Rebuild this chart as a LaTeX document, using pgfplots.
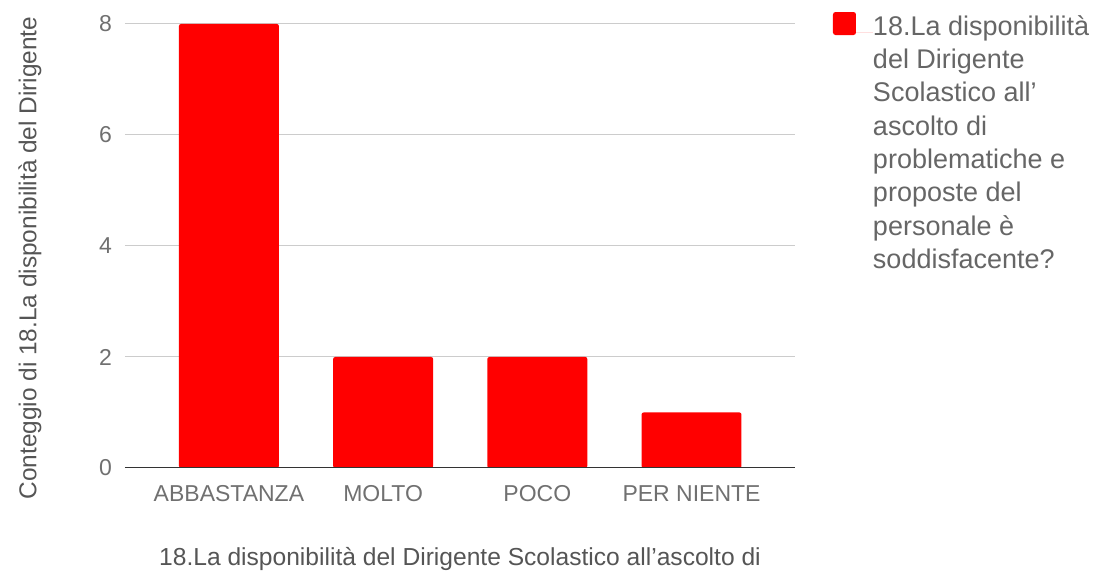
\documentclass[border=0pt]{standalone}
\usepackage{fontspec}
\setmainfont{Liberation Sans}
\usepackage{pgfplots}
\pgfplotsset{compat=1.18}
\definecolor{barred}{HTML}{FF0000}
\definecolor{gridc}{HTML}{CCCCCC}
\definecolor{basec}{HTML}{333333}
\definecolor{tickc}{HTML}{707070}
\definecolor{legc}{HTML}{666666}
\definecolor{titc}{HTML}{555555}
\begin{document}
\begin{tikzpicture}[x=1pt,y=1pt]
\path[use as bounding box] (0,0) rectangle (1104,572);
\begin{axis}[
  at={(125pt,104pt)}, anchor=south west,
  scale only axis, width=670pt, height=444pt,
  xmin=-0.674, xmax=3.671, ymin=0, ymax=8,
  ybar, bar width=0.648,
  xtick={0,1,2,3},
  xticklabels={ABBASTANZA,MOLTO,POCO,PER NIENTE},
  ytick={0,2,4,6,8},
  ymajorgrids, grid style={gridc, line width=1pt},
  axis line style={draw=none}, tick style={draw=none},
  major tick length=0pt,
  /pgf/number format/assume math mode=true,
  ticklabel style={font=\fontsize{23}{27}\selectfont, text=tickc, inner sep=0pt},
  yticklabel style={anchor=east, xshift=-13pt},
  xticklabel style={anchor=north, yshift=-17pt},
  xlabel={18.La disponibilità del Dirigente Scolastico all’ascolto di},
  xlabel style={at={(rel axis cs:0.5,0)}, anchor=north, yshift=-79pt, inner sep=0pt, font=\fontsize{24.6}{28}\selectfont, text=titc},
  ylabel={Conteggio di 18.La disponibilità del Dirigente},
  ylabel style={at={(rel axis cs:-0.1418,0.473)}, anchor=center, rotate=0, inner sep=0pt, font=\fontsize{24.4}{28}\selectfont, text=titc},
  legend cell align=left,
  legend style={draw=none, fill=none, inner sep=0pt, outer sep=0pt,
    at={(rel axis cs:1.0567,1.0270)}, anchor=north west,
    row sep=0pt, column sep=0pt,
    nodes={inner sep=0pt, outer sep=0pt, text height=20pt, text depth=13.3pt, font=\fontsize{27}{33.3}\selectfont, text=legc}},
]
\addplot[fill=barred, draw=none, rounded corners=2pt,
  legend image code/.code={\fill[barred, rounded corners=2.5pt] (0pt,-3pt) rectangle (23pt,20pt); \path[draw=none] (0pt,0pt) -- (40pt,0pt);}]
  coordinates {(0,8) (1,2) (2,2) (3,1)};
\addlegendentry{18.La disponibilità}
\addlegendimage{draw=none, legend image code/.code={\path[draw=none] (0pt,0pt) -- (40pt,0pt);}}
\addlegendentry{del Dirigente}
\addlegendimage{draw=none, legend image code/.code={\path[draw=none] (0pt,0pt) -- (40pt,0pt);}}
\addlegendentry{Scolastico all’}
\addlegendimage{draw=none, legend image code/.code={\path[draw=none] (0pt,0pt) -- (40pt,0pt);}}
\addlegendentry{ascolto di}
\addlegendimage{draw=none, legend image code/.code={\path[draw=none] (0pt,0pt) -- (40pt,0pt);}}
\addlegendentry{problematiche e}
\addlegendimage{draw=none, legend image code/.code={\path[draw=none] (0pt,0pt) -- (40pt,0pt);}}
\addlegendentry{proposte del}
\addlegendimage{draw=none, legend image code/.code={\path[draw=none] (0pt,0pt) -- (40pt,0pt);}}
\addlegendentry{personale è}
\addlegendimage{draw=none, legend image code/.code={\path[draw=none] (0pt,0pt) -- (40pt,0pt);}}
\addlegendentry{soddisfacente?}
\draw[basec, line width=1.3pt] (rel axis cs:0,0) -- (rel axis cs:1,0);
\end{axis}
\end{tikzpicture}
\end{document}
